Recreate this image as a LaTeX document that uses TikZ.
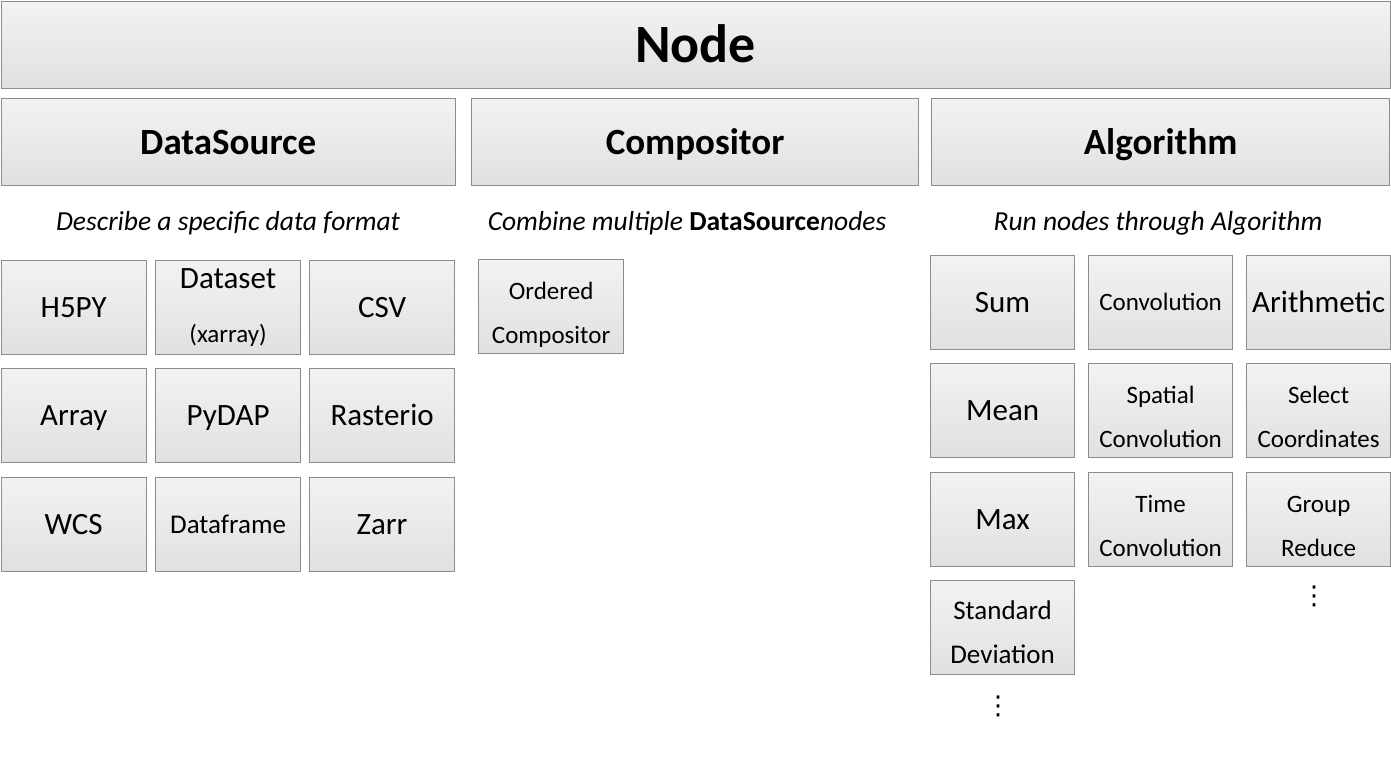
\documentclass[tikz,border=0pt]{standalone}
\usepackage{fontspec}
\setmainfont{Carlito}
\newfontfamily\symfont{DejaVu Sans}

\tikzset{
  block/.style={draw=black!45, line width=1.2pt, top color=black!5, bottom color=black!12,
    inner sep=0pt, anchor=north west, align=center},
  head/.style={font=\fontsize{37}{40}\selectfont\bfseries, text height=24pt, text depth=0pt},
  big/.style={font=\fontsize{31}{36}\selectfont, text height=20pt, text depth=0pt},
  one/.style={font=\fontsize{25}{30}\selectfont, text height=16pt, text depth=0pt},
  two/.style={font=\fontsize{25}{44}\selectfont, text height=74pt, text depth=0pt},
  desc/.style={font=\fontsize{27.5}{30}\selectfont\itshape},
  dots/.style={font=\fontsize{26}{26}\selectfont\symfont, inner sep=0pt},
}

\begin{document}
\begin{tikzpicture}[x=1pt,y=-1pt]

  \useasboundingbox (0,0) rectangle (1391,772);

  % Top level
  \node[block, minimum width=1389pt, minimum height=87pt, font=\fontsize{54}{60}\selectfont\bfseries,
    text height=35pt, text depth=0pt] (node) at (0.6,0.6) {Node};

  % Node types
  \node[block, head, minimum width=454pt, minimum height=87pt] (datasource) at (0.6,98) {DataSource};
  \node[block, head, minimum width=447pt, minimum height=87pt] (compositor) at (471,98) {Compositor};
  \node[block, head, minimum width=458pt, minimum height=87pt] (algorithm) at (931,98) {Algorithm};

  % Descriptions
  \node[desc] (dsdesc) at (228,223) {Describe a specific data format};
  \node[desc] (cpdesc) at (687,223) {Combine multiple \textbf{\upshape DataSource}nodes};
  \node[desc] (aldesc) at (1158,223) {Run nodes through Algorithm};

  % DataSource nodes
  \begin{scope}[every node/.style={block, minimum width=145pt, minimum height=94pt}]
    \node[big] (h5py) at (0.6,260) {H5PY};
    \node (dataset) at (155,260) {{\fontsize{31}{36}\selectfont Dataset}\\[35pt]{\fontsize{25}{28}\selectfont (xarray)}};
    \node[big] (csv) at (309,260) {CSV};
    \node[big] (array) at (0.6,368) {Array};
    \node[big] (pydap) at (155,368) {PyDAP};
    \node[big] (rasterio) at (309,368) {Rasterio};
    \node[big] (wcs) at (0.6,477) {WCS};
    \node[one, font=\fontsize{27}{30}\selectfont, text height=17pt] (dataframe) at (155,477) {Dataframe};
    \node[big] (zarr) at (309,477) {Zarr};
  \end{scope}

  % Compositor nodes
  \node[block, two, minimum width=145pt, minimum height=94pt] (ordered) at (478,259) {Ordered\\Compositor};

  % Algorithm nodes
  \begin{scope}[every node/.style={block, minimum width=144pt, minimum height=94pt}]
    \node[big] (sum) at (930,255) {Sum};
    \node[one] (conv) at (1088,255) {Convolution};
    \node[big] (arith) at (1246,255) {Arithmetic};
    \node[big] (mean) at (930,363) {Mean};
    \node[two] (spconv) at (1088,363) {Spatial\\Convolution};
    \node[two] (selcoord) at (1246,363) {Select\\Coordinates};
    \node[big] (max) at (930,472) {Max};
    \node[two] (tconv) at (1088,472) {Time\\Convolution};
    \node[two] (groupred) at (1246,472) {Group\\Reduce};
    \node[two, font=\fontsize{27}{44}\selectfont, text height=71pt] (stddev) at (930,580) {Standard\\Deviation};
  \end{scope}

  % More to come
  \node[dots] (moreal) at (998,706) {⋮};
  \node[dots] (moregr) at (1314,596) {⋮};

\end{tikzpicture}
\end{document}
